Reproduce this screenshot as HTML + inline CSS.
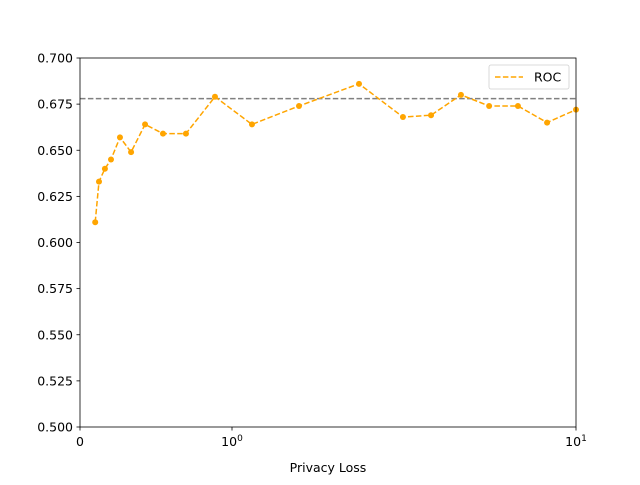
<!DOCTYPE html>
<html><head><meta charset="utf-8"><style>
body{margin:0;background:#fff;font-family:"Liberation Sans","DejaVu Sans",sans-serif}
svg text{font-family:"DejaVu Sans","Liberation Sans",sans-serif;font-size:12.5px;fill:#000}
</style></head><body>
<svg id="chart" width="640" height="480" viewBox="0 0 640 480" xmlns="http://www.w3.org/2000/svg">
<rect width="640" height="480" fill="#fff"/>
<g id="plot"></g>
</svg>
<script>
const xValues=[0.1,0.125,0.164,0.204,0.263,0.336,0.428,0.546,0.697,0.888,1.143,1.566,2.34,3.14,3.79,4.63,5.59,6.78,8.24,10];
const rocValues=[0.611,0.633,0.640,0.645,0.657,0.649,0.664,0.659,0.659,0.679,0.664,0.674,0.686,0.668,0.669,0.680,0.674,0.674,0.665,0.672];
const baseline=[0.678];
const yTicks=[0.5,0.525,0.55,0.575,0.6,0.625,0.65,0.675,0.7];
const xTickVals=[0,1,10];
const L=80,R=576,T=58,B=427;
const linPx=152;
function xs(v){return v<=1?L+v*linPx:L+linPx+Math.log10(v)*(R-L-linPx);}
function ys(v){return B-(v-0.5)/0.2*(B-T);}
const NS="http://www.w3.org/2000/svg";
const g=document.getElementById('plot');
function mk(tag,attrs,parent){const e=document.createElementNS(NS,tag);for(const k in attrs)e.setAttribute(k,attrs[k]);(parent||g).appendChild(e);return e;}
// y ticks
yTicks.forEach(v=>{const y=ys(v);
 const t=mk('line',{x1:L-3.5,x2:L,y1:y,y2:y,stroke:'#000','stroke-width':0.8});
 
 
 const tx=mk('text',{x:L-7,y:y+4.5,'text-anchor':'end'});tx.textContent=v.toFixed(3);
 
 
});
xTickVals.forEach(v=>{const x=xs(v);
 const t=mk('line',{x1:x,x2:x,y1:B,y2:B+3.5,stroke:'#000','stroke-width':0.8});
 
 
 const tx=mk('text',{x:x,y:B+19,'text-anchor':'middle'});
 if(v===0)tx.textContent='0';else{tx.textContent='10';const s=mk('tspan',{dy:-5,'font-size':'9px'},tx);s.textContent=String(Math.round(Math.log10(v)));}
 
 
});
// baseline
const bl=mk('line',{x1:L,x2:R,y1:ys(baseline[0]),y2:ys(baseline[0]),stroke:'#808080','stroke-width':1.5,'stroke-dasharray':'5.5,2.4'});


// series
const pts=xValues.map((x,i)=>xs(x)+','+ys(rocValues[i])).join(' ');
const pl=mk('polyline',{points:pts,fill:'none',stroke:'#ffa500','stroke-width':1.5,'stroke-dasharray':'5.5,2.4'});


xValues.forEach((x,i)=>{const c=mk('circle',{cx:xs(x),cy:ys(rocValues[i]),r:3,fill:'#ffa500'});
 
 });
// frame
const fr=mk('rect',{x:L,y:T,width:R-L,height:B-T,fill:'none',stroke:'#000','stroke-width':0.8});


// x label
const xl=mk('text',{x:(L+R)/2,y:472,'text-anchor':'middle'});xl.textContent='Privacy Loss';


// legend
const lg=mk('g',{});


mk('rect',{x:489,y:65,width:80,height:24,rx:2,fill:'#fff',stroke:'#d0d0d0','stroke-width':0.8},lg);
mk('line',{x1:495,x2:523,y1:77,y2:77,stroke:'#ffa500','stroke-width':1.5,'stroke-dasharray':'5.5,2.4'},lg);
const lt=mk('text',{x:534,y:81.5},lg);lt.textContent='ROC';


</script>
</body></html>
